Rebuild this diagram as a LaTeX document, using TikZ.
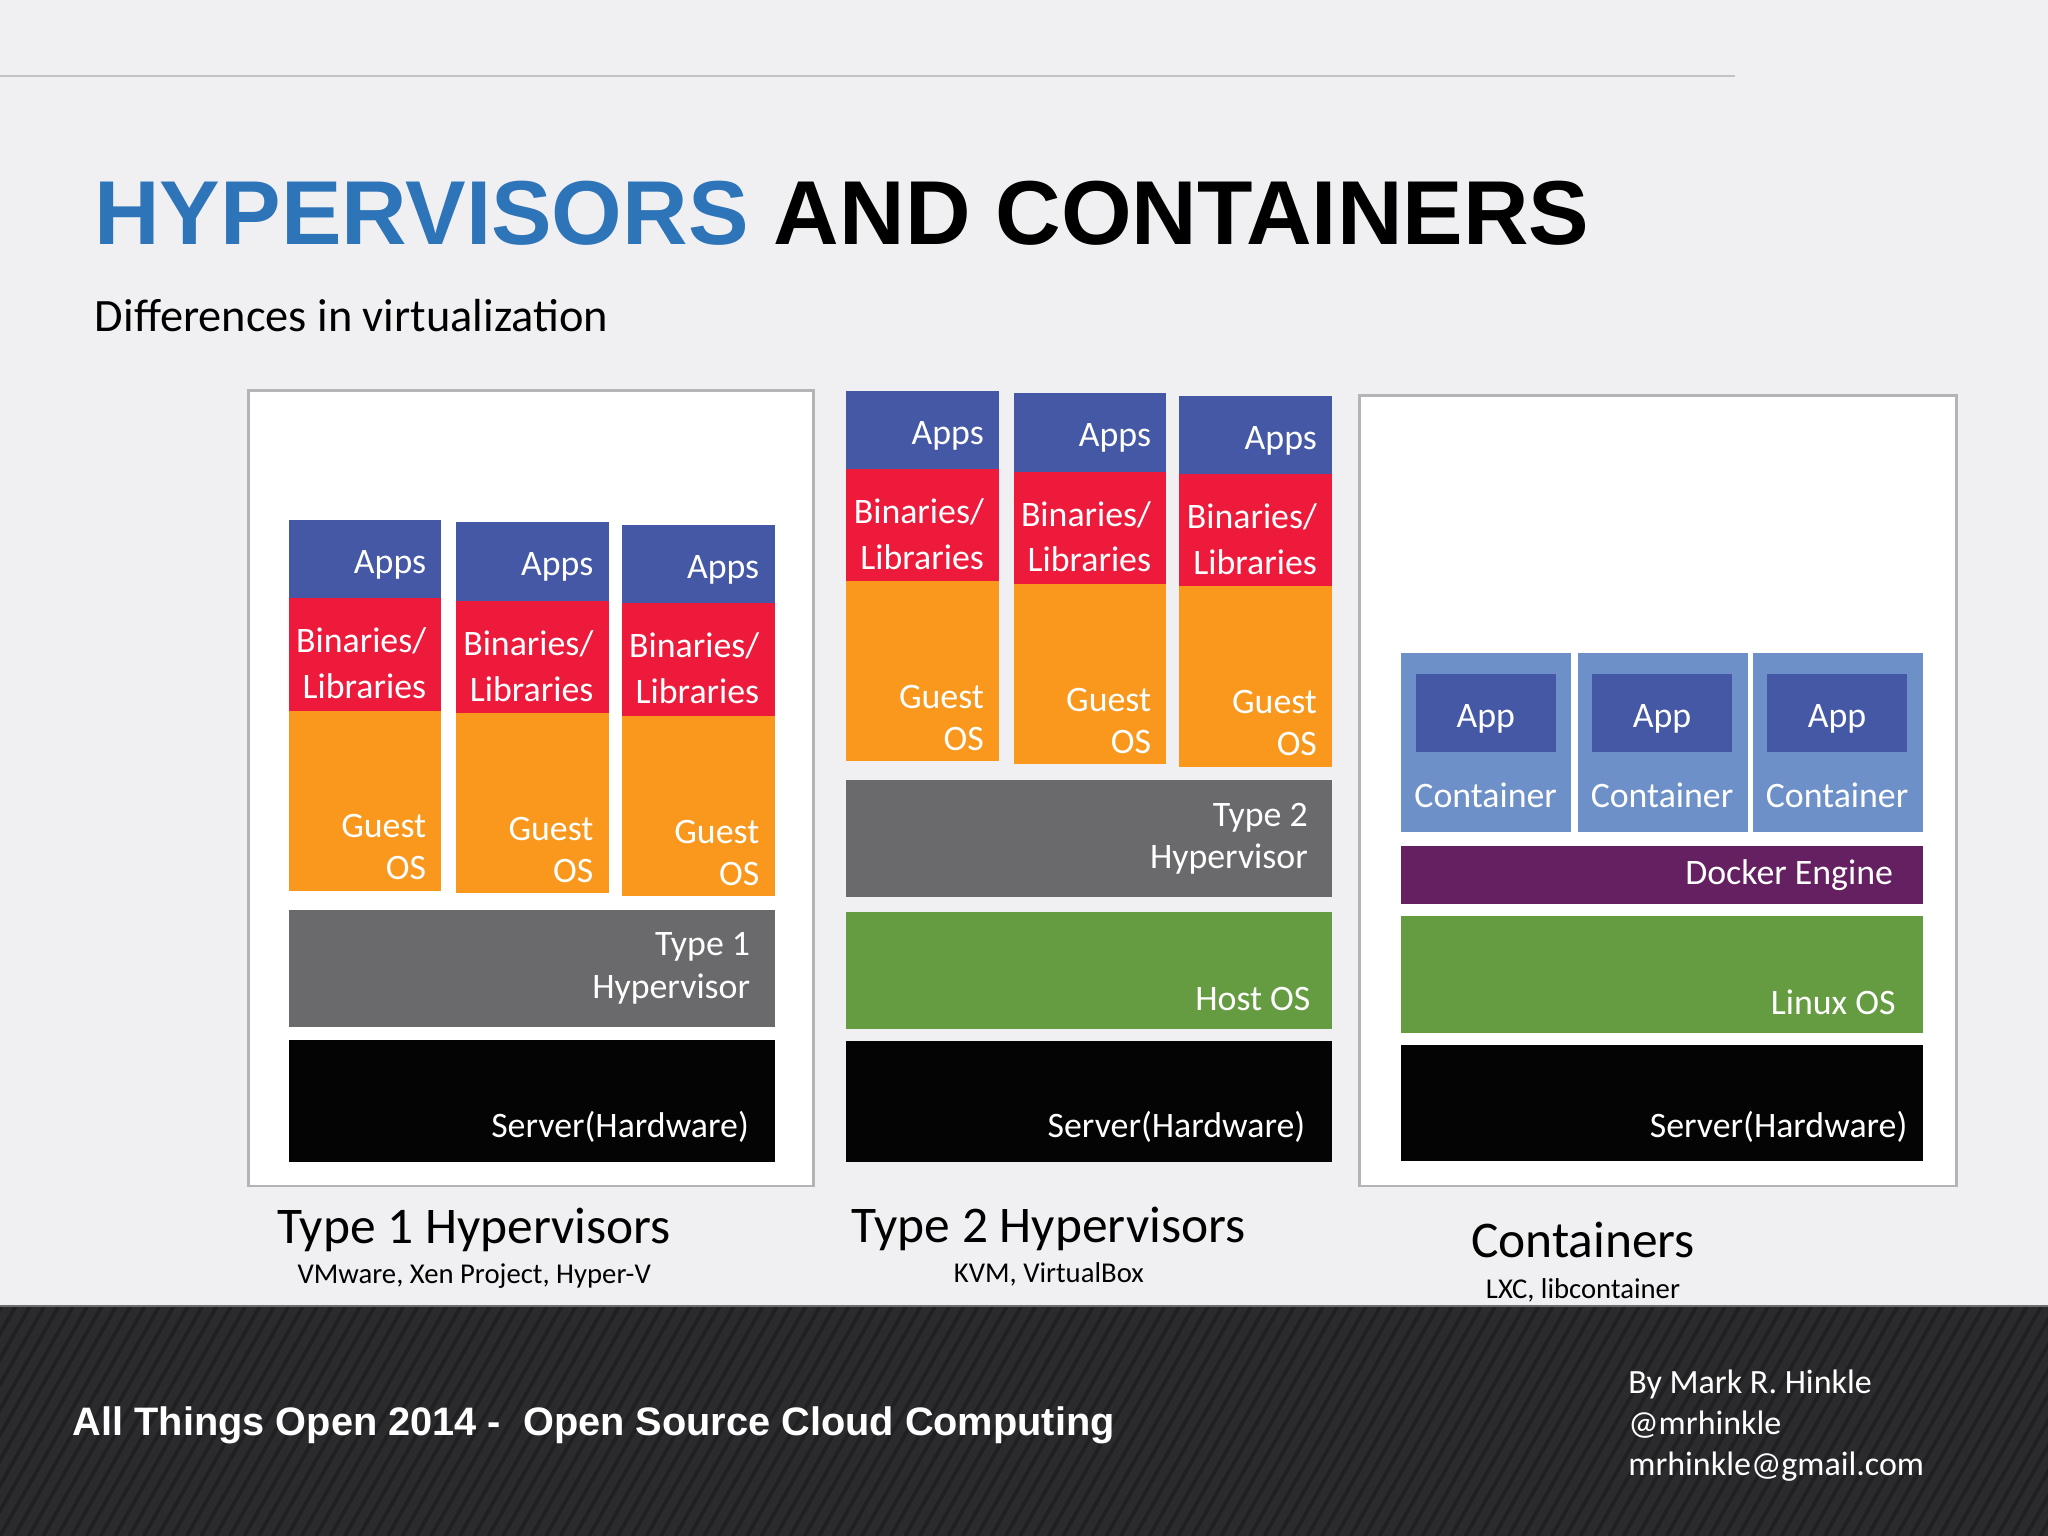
\documentclass[tikz,border=0pt]{standalone}
\usepackage{fontspec}
\setmainfont{Carlito}
\newfontfamily\headfont{Liberation Sans}
\definecolor{slide}{HTML}{F0F0F2}
\definecolor{rim}{HTML}{B4B4B8}
\definecolor{footer}{HTML}{2B2B2D}
\definecolor{stripe}{HTML}{202022}
\definecolor{titleblue}{HTML}{2E74B9}
\definecolor{appblue}{HTML}{4458A6}
\definecolor{binred}{HTML}{ED1A3B}
\definecolor{osorange}{HTML}{F9981C}
\definecolor{hypgray}{HTML}{6A696C}
\definecolor{osgreen}{HTML}{669C41}
\definecolor{hwblack}{HTML}{040404}
\definecolor{dockerpurple}{HTML}{642060}
\definecolor{boxblue}{HTML}{6E90C8}
\tikzset{
  layer/.style={anchor=north west, inner sep=0pt, outer sep=0pt, draw=none},
  panel/.style={anchor=north west, inner sep=0pt, fill=white, draw=rim, line width=.6pt},
  tag/.style={inner sep=0pt, text=white, align=right, font=\fontsize{7.8}{10}\selectfont},
  bigcap/.style={inner sep=0pt, anchor=base, font=\fontsize{11.2}{13}\selectfont},
  subcap/.style={inner sep=0pt, anchor=base, font=\fontsize{6.25}{8}\selectfont}
}
% name, colour, left, top, width, height
\newcommand{\layer}[6]{%
  \node[layer, fill=#2, minimum width=#5*.01cm, minimum height=#6*.01cm] (#1) at (#3,#4) {};}
\begin{document}
\begin{tikzpicture}[x=.01cm, y=-.01cm]
  \useasboundingbox (0,0) rectangle (1568,1176);
  \fill[slide] (0,0) rectangle (1568,1176);
  \draw[rim!80, line width=.35pt] (0,58) -- (1328,58);
  \node[inner sep=0pt, anchor=base west, font=\headfont\bfseries\fontsize{19.77}{22}\selectfont] (title) at (71.5,187)
    {\textcolor{titleblue}{HYPERVISORS} AND CONTAINERS};
  \node[inner sep=0pt, anchor=base west, font=\fontsize{10.1}{12}\selectfont] (subtitle) at (72,254) {Differences in virtualization};

  % white panels
  \node[panel, minimum width=433*.01cm, minimum height=609*.01cm] (panelA) at (189,298) {};
  \node[panel, minimum width=457*.01cm, minimum height=605*.01cm] (panelC) at (1040,302) {};

  % the six guest stacks
  \foreach \x/\y [count=\n] in {221/398,349/400,476/402,648/299,776/301,903/303} {
    \layer{apps\n}{appblue}{\x}{\y}{117}{60}
    \layer{bin\n}{binred}{\x}{\y+60}{117}{86}
    \layer{guest\n}{osorange}{\x}{\y+146}{117}{138}
    \node[tag, anchor=base east] (appstag\n) at (\x+106,\y+41) {Apps};
    \node[tag, anchor=north east] (bintag\n) at (\x+106,\y+82) {Binaries/\\Libraries};
    \node[tag, anchor=north east] (guesttag\n) at (\x+106,\y+225) {Guest\\[-.85pt]OS};
  }

  % hypervisors and hardware
  \layer{hypA}{hypgray}{221}{697}{372}{89}
  \layer{hypB}{hypgray}{648}{597}{372}{90}
  \layer{hostB}{osgreen}{648}{698}{372}{90}
  \layer{hwA}{hwblack}{221}{796}{372}{94}
  \layer{hwB}{hwblack}{648}{797}{372}{93}
  \node[tag, anchor=north east] (hypAtag) at (575,713) {Type 1\\[-.55pt]Hypervisor};
  \node[tag, anchor=north east] (hypBtag) at (1002,614) {Type 2\\[-.85pt]Hypervisor};
  \node[tag, anchor=base east] (hostBtag) at (1004,774) {Host OS};
  \node[tag, anchor=base east] (hwAtag) at (574,871) {Server(Hardware)};
  \node[tag, anchor=base east] (hwBtag) at (1000,871) {Server(Hardware)};

  % containers
  \foreach \x [count=\n] in {1073,1208,1342} {
    \layer{box\n}{boxblue}{\x}{500}{130}{137}
    \layer{app\n}{appblue}{\x+11}{516}{107}{60}
    \node[tag, anchor=base] (apptag\n) at (\x+64.5,557) {App};
    \node[tag, anchor=base] (boxtag\n) at (\x+64.5,618) {Container};
  }
  \layer{docker}{dockerpurple}{1073}{648}{399}{44}
  \layer{linux}{osgreen}{1073}{701}{399}{90}
  \layer{hwC}{hwblack}{1073}{800}{399}{89}
  \node[tag, anchor=base east] (dockertag) at (1450,677) {Docker Engine};
  \node[tag, anchor=base east] (linuxtag) at (1452,777) {Linux OS};
  \node[tag, anchor=base east] (hwCtag) at (1461,871) {Server(Hardware)};

  % captions
  \node[bigcap] (capA) at (363,952) {Type 1 Hypervisors};
  \node[subcap] (subA) at (363,983) {VMware, Xen Project, Hyper-V};
  \node[bigcap] (capB) at (803,951) {Type 2 Hypervisors};
  \node[subcap] (subB) at (803,982) {KVM, VirtualBox};
  \node[bigcap] (capC) at (1212,963) {Containers};
  \node[subcap] (subC) at (1212,994) {LXC, libcontainer};

  % footer band
  \fill[footer] (0,1000) rectangle (1568,1176);
  \begin{scope}
    \clip (0,1000) rectangle (1568,1176);
    \foreach \s in {-110,-99,...,1568}
      \draw[stripe, line width=.8pt] (\s,1176) -- (\s+100,1000);
  \end{scope}
  \draw[rim!60!black, line width=.5pt] (0,1000) -- (1568,1000);
  \node[inner sep=0pt, anchor=base west, text=white, font=\headfont\bfseries\fontsize{8.65}{11}\selectfont] (event) at (55,1099)
    {All Things Open 2014 -\ \ Open Source Cloud Computing};
  \node[inner sep=0pt, anchor=north west, text=white, align=left, font=\fontsize{7.4}{8.9}\selectfont] (byline) at (1246,1048)
    {By Mark R. Hinkle\\@mrhinkle\\mrhinkle@gmail.com};
\end{tikzpicture}
\end{document}
